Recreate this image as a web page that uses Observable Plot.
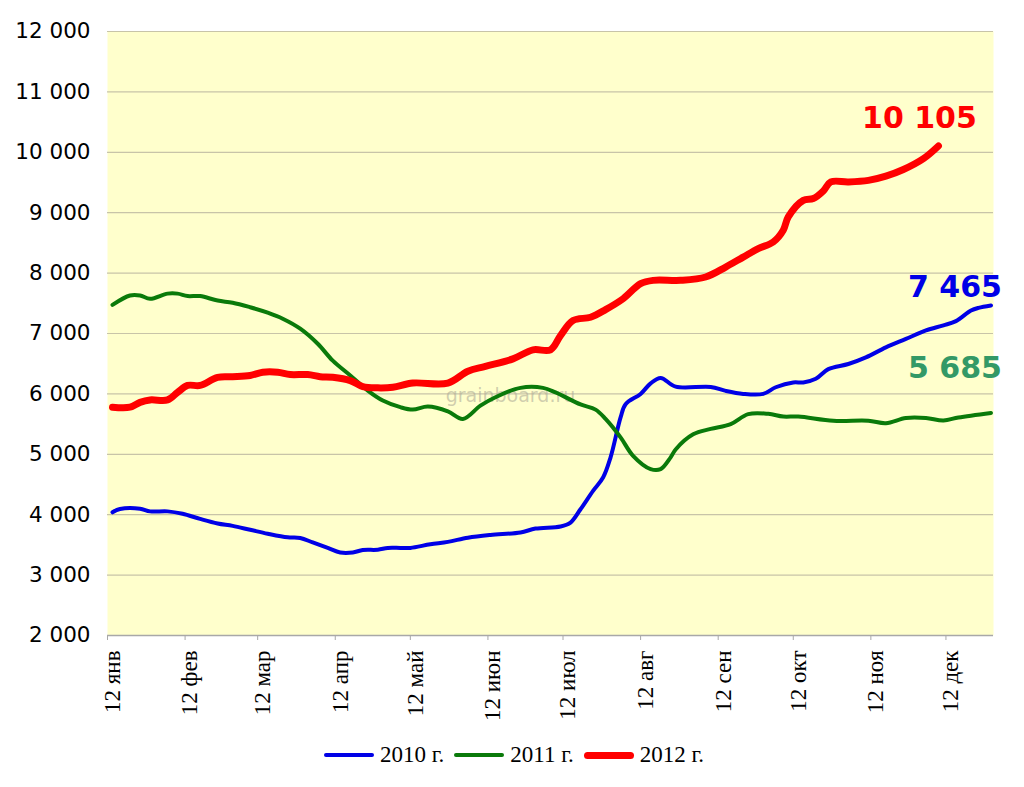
<!DOCTYPE html>
<html>
<head>
<meta charset="utf-8">
<script src="https://cdn.jsdelivr.net/npm/d3@7"></script>
<script src="https://cdn.jsdelivr.net/npm/@observablehq/plot@0.6"></script>
<style>
  html, body { margin: 0; padding: 0; background: #fff; }
  #wrap { width: 1024px; }
  #legend { display: flex; justify-content: center; align-items: center; gap: 0; margin-top: 12px;
    font-family: "Liberation Serif", "Times New Roman", serif; font-size: 23px; color: #000; padding-left: 4px; }
  .item { display: flex; align-items: center; margin: 0 5px; }
  .sw { width: 50px; border-radius: 4px; margin-right: 6px; }
</style>
</head>
<body>
<div id="wrap"></div>
<script>
// ---- data (day of year, value) ----
const monthLabels = ["янв","фев","мар","апр","май","июн","июл","авг","сен","окт","ноя","дек"];
const yTicks = [2000,3000,4000,5000,6000,7000,8000,9000,10000,11000,12000];

const days2010 = [14,17,25,29,36,42,49,56,62,69,76,84,89,94,100,105,110,114,120,124,129,133,141,148,156,165,177,183,193,197,201,206,210,213,217,219,225,229,233,239,253,259,266,274,279,286,290,295,300,308,315,323,331,339,346,351,357,360,365];
const vals2010 = [4040,4095,4100,4055,4055,4015,3930,3855,3815,3750,3685,3625,3615,3540,3450,3375,3375,3415,3420,3450,3450,3450,3510,3550,3620,3665,3705,3770,3805,3870,4090,4395,4615,4950,5610,5830,6000,6175,6265,6120,6115,6050,6000,6000,6110,6190,6190,6250,6410,6495,6605,6770,6910,7050,7135,7205,7380,7425,7465];

const days2011 = [14,21,25,29,36,40,44,49,56,62,69,76,82,89,96,102,109,116,122,129,134,140,148,154,161,167,177,186,191,201,207,211,217,222,229,233,237,239,246,253,261,268,276,282,288,302,316,323,331,339,346,352,365];
const vals2011 = [7475,7630,7630,7575,7660,7660,7620,7620,7545,7510,7435,7345,7245,7080,6830,6550,6305,6055,5890,5780,5740,5790,5710,5585,5805,5945,6100,6100,6025,5825,5740,5585,5280,4975,4755,4755,4950,5080,5330,5420,5500,5665,5670,5625,5625,5555,5555,5515,5600,5600,5560,5610,5685];

const days2012 = [14,21,25,29,36,40,44,49,56,62,69,74,80,85,92,97,102,109,114,120,126,134,148,156,163,174,182,189,193,198,205,211,218,225,230,241,251,259,266,272,278,282,284,290,294,298,301,308,316,323,330,338,344];
const vals2012 = [5780,5780,5860,5900,5900,6025,6140,6140,6275,6285,6305,6360,6360,6320,6320,6285,6275,6220,6120,6100,6110,6180,6180,6375,6455,6580,6730,6730,6965,7215,7270,7395,7575,7825,7880,7880,7935,8100,8265,8405,8515,8710,8930,9205,9235,9360,9510,9510,9535,9605,9715,9895,10105];

const seriesNames = ["2010 г.","2011 г.","2012 г."];
const seriesColors = ["#0000e6","#0a7a0a","#ff0000"];
const labelColors = ["#0000e6","#339966","#ff0000"];
const strokeWidths = [4,4,7];

// ---- build table ----
const toDate = d => new Date(Date.UTC(2012, 0, d));
const allDays = [days2010, days2011, days2012];
const allVals = [vals2010, vals2011, vals2012];
const rows = [];
allDays.forEach((ds, s) => ds.forEach((d, i) => rows.push({series: seriesNames[s], date: toDate(d), value: allVals[s][i]})));

const loc = d3.formatLocale({decimal: ",", thousands: "\u00a0", grouping: [3], currency: ["", ""]});
const fmt = loc.format(",");

const endRows = seriesNames.map((n, s) => ({
  series: n,
  date: toDate(allDays[s][allDays[s].length - 1]),
  value: allVals[s][allVals[s].length - 1],
  label: fmt(allVals[s][allVals[s].length - 1]),
  color: labelColors[s]
}));
const labelOffsets = {"2010 г.": [-36, -18], "2011 г.": [-36, -45], "2012 г.": [-19, -28]};

const xTicks = monthLabels.map((m, i) => new Date(Date.UTC(2012, i, 12)));

const plot = Plot.plot({
  width: 1024,
  height: 730,
  marginLeft: 107,
  marginRight: 31,
  marginTop: 31,
  marginBottom: 95,
  style: {background: "#fff", overflow: "visible"},
  x: {type: "utc", domain: [toDate(12), toDate(366)]},
  y: {domain: [2000, 12000]},
  color: {domain: seriesNames, range: seriesColors},
  marks: [
    Plot.frame({fill: "#ffffcc", stroke: "none"}),
    Plot.gridY(yTicks, {stroke: "#c8c4a8", strokeOpacity: 1, strokeWidth: 1.2}),
    Plot.ruleY([2000], {stroke: "#a8a8a8", strokeWidth: 1.5}),
    Plot.text(["grainboard.ru"], {frameAnchor: "middle", dx: -40, dy: 62, fill: "#b0ad98", fillOpacity: 0.6, fontSize: 19, fontFamily: "DejaVu Sans, sans-serif"}),
    Plot.axisY({ticks: yTicks, tickSize: 0, tickPadding: 17, tickFormat: fmt, fontSize: 21.5, fontFamily: "DejaVu Sans, Verdana, sans-serif", fill: "#000", label: null}),
    Plot.axisX({ticks: xTicks, tickSize: 5, stroke: "#a8a8a8", tickFormat: () => "", label: null}),
    Plot.axisX({ticks: xTicks, tickSize: 0, tickRotate: -90, tickPadding: 15, dx: 5,
      tickFormat: d => "12 " + monthLabels[d.getUTCMonth()], fontSize: 23, fontFamily: "Liberation Serif, Times New Roman, serif", fill: "#000", label: null}),
    ...seriesNames.map((n, s) => Plot.line(rows.filter(r => r.series === n), {
      x: "date", y: "value", stroke: seriesColors[s], strokeWidth: strokeWidths[s], curve: "catmull-rom", strokeLinecap: "round", strokeLinejoin: "round"
    })),
    ...endRows.map(r => Plot.text([r], {x: "date", y: "value", text: "label", fill: r.color, dx: labelOffsets[r.series][0], dy: labelOffsets[r.series][1],
      fontSize: 30, fontWeight: "bold", fontFamily: "DejaVu Sans, Verdana, sans-serif", textAnchor: "middle"}))
  ]
});

const wrap = document.getElementById("wrap");
wrap.appendChild(plot);

const legend = document.createElement("div");
legend.id = "legend";
seriesNames.forEach((n, s) => {
  const it = document.createElement("div");
  it.className = "item";
  const sw = document.createElement("div");
  sw.className = "sw";
  sw.style.height = strokeWidths[s] + "px";
  sw.style.background = seriesColors[s];
  const t = document.createElement("span");
  t.textContent = n;
  it.appendChild(sw);
  it.appendChild(t);
  legend.appendChild(it);
});
wrap.appendChild(legend);
</script>
</body>
</html>
